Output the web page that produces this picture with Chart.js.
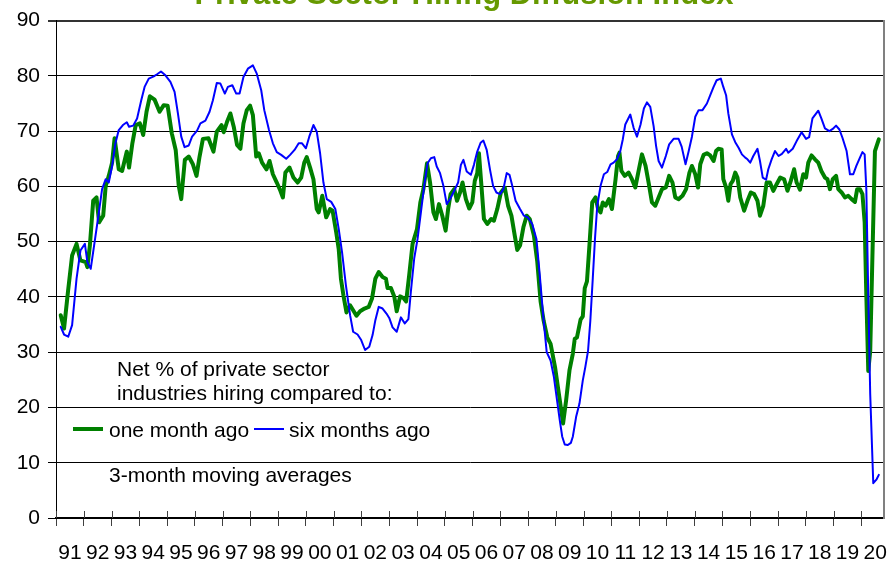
<!DOCTYPE html>
<html>
<head>
<meta charset="utf-8">
<title>Private Sector Hiring Diffusion Index</title>
<script src="https://cdn.jsdelivr.net/npm/chart.js@4.4.1/dist/chart.umd.min.js"></script>
<style>
  html, body { margin: 0; padding: 0; background: #fff; }
  #wrap { position: relative; width: 894px; height: 564px; }
</style>
</head>
<body>
<div id="wrap"><canvas id="chart"></canvas></div>
<script>
// year labels on the x axis, one per year (ticks sit at the start of each year)
const yearLabels = ['91','92','93','94','95','96','97','98','99','00','01','02','03','04','05',
                    '06','07','08','09','10','11','12','13','14','15','16','17','18','19','20'];
const yTicks = [0, 10, 20, 30, 40, 50, 60, 70, 80, 90];

const titleText = 'Private Sector Hiring Diffusion Index';
const noteLines = ['Net % of private sector', 'industries hiring compared to:'];
const seriesNames = ['one month ago', 'six months ago'];
const footNote = '3-month moving averages';

// one month ago (3-month moving average)
const greenYears = [1991.17,1991.29,1991.43,1991.58,1991.74,1991.88,1992.07,1992.13,1992.22,1992.34,
  1992.46,1992.55,1992.70,1992.79,1992.90,1993.02,1993.11,1993.26,1993.38,1993.55,
  1993.63,1993.75,1993.87,1994.02,1994.14,1994.26,1994.38,1994.55,1994.73,1994.88,
  1995.02,1995.17,1995.31,1995.42,1995.51,1995.64,1995.78,1995.93,1996.06,1996.17,
  1996.29,1996.49,1996.67,1996.79,1996.96,1997.04,1997.16,1997.28,1997.40,1997.52,
  1997.64,1997.75,1997.87,1997.99,1998.09,1998.21,1998.30,1998.42,1998.58,1998.69,
  1998.81,1998.95,1999.08,1999.17,1999.26,1999.41,1999.55,1999.70,1999.83,1999.94,
  2000.03,2000.15,2000.27,2000.39,2000.46,2000.59,2000.73,2000.87,2000.96,2001.09,
  2001.18,2001.26,2001.35,2001.46,2001.59,2001.70,2001.82,2001.95,2002.11,2002.26,
  2002.38,2002.50,2002.62,2002.76,2002.88,2002.94,2003.06,2003.18,2003.27,2003.39,
  2003.51,2003.61,2003.72,2003.84,2004.00,2004.12,2004.23,2004.36,2004.47,2004.59,
  2004.68,2004.79,2004.91,2005.03,2005.12,2005.21,2005.34,2005.44,2005.55,2005.64,
  2005.76,2005.88,2005.99,2006.08,2006.17,2006.23,2006.32,2006.41,2006.53,2006.67,
  2006.77,2006.89,2007.02,2007.16,2007.28,2007.40,2007.52,2007.61,2007.71,2007.83,
  2007.95,2008.06,2008.21,2008.33,2008.45,2008.56,2008.69,2008.81,2008.97,2009.09,
  2009.21,2009.26,2009.37,2009.49,2009.61,2009.68,2009.76,2009.89,2009.97,2010.04,
  2010.12,2010.21,2010.31,2010.43,2010.52,2010.61,2010.69,2010.79,2010.91,2011.02,
  2011.15,2011.24,2011.29,2011.36,2011.48,2011.62,2011.74,2011.86,2011.99,2012.10,
  2012.23,2012.34,2012.46,2012.58,2012.70,2012.82,2012.96,2013.08,2013.20,2013.30,
  2013.42,2013.56,2013.69,2013.81,2013.90,2014.02,2014.12,2014.20,2014.32,2014.44,
  2014.56,2014.68,2014.77,2014.85,2014.97,2015.03,2015.13,2015.21,2015.29,2015.37,
  2015.46,2015.54,2015.64,2015.78,2015.90,2016.02,2016.14,2016.26,2016.35,2016.47,
  2016.59,2016.71,2016.83,2016.95,2017.08,2017.22,2017.34,2017.46,2017.58,2017.67,
  2017.79,2017.91,2018.01,2018.09,2018.21,2018.33,2018.45,2018.56,2018.69,2018.78,
  2018.87,2018.97,2019.09,2019.17,2019.29,2019.41,2019.53,2019.65,2019.77,2019.85,
  2019.95,2020.04,2020.12,2020.18,2020.25,2020.32,2020.40,2020.49,2020.57,2020.63];
const greenValues = [36.7,34.3,40.9,47.5,49.6,46.6,46.3,45.4,49.3,57.4,
  58.0,53.5,54.7,60.1,61.9,64.3,68.7,63.1,62.8,66.3,
  63.4,67.8,71.1,71.4,69.3,73.5,76.3,75.7,73.5,74.7,
  74.6,69.6,66.6,60.1,57.7,64.8,65.4,64.0,61.9,65.4,
  68.6,68.7,66.3,69.9,71.1,69.8,71.7,73.2,70.8,67.5,
  66.8,71.4,73.8,74.6,72.9,65.4,66.0,64.3,63.1,64.6,
  62.2,60.7,59.2,58.0,62.5,63.4,61.6,60.7,61.6,64.3,
  65.3,63.4,61.3,55.9,55.3,58.3,54.4,55.9,55.6,51.7,
  48.7,43.3,40.3,37.2,38.5,37.6,36.6,37.4,37.9,38.2,
  39.7,43.3,44.5,43.6,43.3,41.6,41.6,40.1,37.4,40.1,
  39.8,39.2,44.0,49.6,52.3,57.1,59.5,64.2,60.7,55.3,
  54.1,56.8,54.7,52.0,55.9,58.6,59.5,57.4,58.9,60.7,
  57.7,56.0,57.1,61.0,62.4,66.0,60.1,54.1,53.2,54.1,
  53.8,55.9,58.9,59.8,56.5,54.7,51.1,48.5,49.3,52.6,
  54.7,54.1,51.1,46.4,39.2,35.7,32.7,31.5,27.3,23.1,
  18.9,17.1,21.3,26.7,29.7,32.4,32.7,35.9,36.5,41.6,
  42.8,49.4,57.1,58.0,55.9,55.3,57.1,56.5,57.7,55.9,
  61.3,65.5,66.1,62.8,61.9,62.5,61.3,59.8,63.1,65.8,
  63.7,60.7,57.1,56.5,58.0,59.5,59.8,61.9,60.7,58.0,
  57.7,58.3,59.5,62.5,63.7,62.2,59.8,64.0,65.7,66.0,
  65.6,64.6,66.4,66.8,66.7,61.3,59.8,57.4,60.4,61.0,
  62.5,61.6,58.0,55.6,57.4,58.9,58.6,57.4,54.7,56.5,
  60.7,60.7,59.2,60.4,61.6,61.3,59.2,61.0,63.1,60.7,
  59.4,62.2,61.6,64.3,65.6,64.9,64.3,62.8,61.6,61.3,
  59.5,61.3,61.9,59.5,58.9,58.0,58.3,57.7,57.2,59.5,
  59.5,58.6,53.5,40.3,26.6,30.2,47.5,66.4,67.6,68.5];

// six months ago (3-month moving average)
const blueYears = [1991.17,1991.29,1991.44,1991.58,1991.74,1991.88,1992.04,1992.13,1992.25,1992.39,
  1992.51,1992.66,1992.79,1992.90,1993.02,1993.14,1993.26,1993.41,1993.55,1993.63,
  1993.78,1993.92,1994.07,1994.19,1994.34,1994.52,1994.64,1994.78,1994.94,1995.12,
  1995.27,1995.39,1995.51,1995.63,1995.78,1995.90,1996.08,1996.20,1996.38,1996.53,
  1996.65,1996.79,1996.92,1997.08,1997.19,1997.35,1997.49,1997.61,1997.75,1997.91,
  1998.09,1998.23,1998.39,1998.50,1998.67,1998.81,1998.95,1999.11,1999.29,1999.43,
  1999.59,1999.74,1999.86,2000.00,2000.12,2000.27,2000.39,2000.51,2000.63,2000.75,
  2000.91,2001.06,2001.18,2001.30,2001.44,2001.59,2001.70,2001.86,2001.99,2002.13,
  2002.28,2002.40,2002.50,2002.62,2002.76,2002.90,2003.00,2003.12,2003.27,2003.42,
  2003.56,2003.69,2003.78,2003.90,2004.02,2004.14,2004.26,2004.38,2004.50,2004.62,
  2004.71,2004.83,2004.95,2005.07,2005.19,2005.34,2005.48,2005.58,2005.67,2005.79,
  2005.94,2006.05,2006.17,2006.29,2006.39,2006.51,2006.63,2006.74,2006.86,2006.99,
  2007.11,2007.23,2007.33,2007.43,2007.55,2007.71,2007.85,2007.99,2008.15,2008.30,
  2008.42,2008.54,2008.67,2008.81,2008.93,2009.01,2009.14,2009.23,2009.32,2009.43,
  2009.54,2009.61,2009.73,2009.85,2009.97,2010.06,2010.16,2010.24,2010.33,2010.41,
  2010.49,2010.61,2010.73,2010.85,2010.97,2011.08,2011.20,2011.32,2011.41,2011.50,
  2011.68,2011.80,2011.92,2012.05,2012.17,2012.28,2012.40,2012.52,2012.61,2012.70,
  2012.82,2012.96,2013.08,2013.24,2013.42,2013.53,2013.67,2013.78,2013.90,2014.02,
  2014.14,2014.28,2014.44,2014.56,2014.68,2014.79,2014.94,2015.03,2015.13,2015.21,
  2015.34,2015.46,2015.58,2015.70,2015.82,2015.90,2016.00,2016.11,2016.26,2016.35,
  2016.45,2016.57,2016.65,2016.77,2016.89,2017.02,2017.14,2017.29,2017.37,2017.53,
  2017.67,2017.85,2018.01,2018.12,2018.24,2018.45,2018.56,2018.69,2018.85,2018.97,
  2019.09,2019.21,2019.32,2019.47,2019.59,2019.71,2019.82,2019.95,2020.04,2020.12,
  2020.18,2020.25,2020.32,2020.43,2020.55,2020.63];
const blueValues = [34.6,33.2,32.8,34.9,43.3,48.4,49.6,46.3,45.1,49.9,
  54.1,59.5,61.3,60.7,63.7,67.8,70.2,71.1,71.6,70.8,
  71.0,72.3,75.6,78.0,79.5,79.9,80.3,80.8,80.1,78.9,
  77.1,73.2,69.0,67.1,67.4,69.0,70.1,71.4,71.9,73.5,
  75.6,78.7,78.6,76.8,78.0,78.3,76.8,76.8,79.8,81.3,
  81.9,80.4,77.4,73.8,70.2,67.8,66.2,65.7,65.0,65.7,
  66.6,67.8,67.8,66.9,69.0,71.1,69.9,66.0,60.7,57.7,
  57.2,55.9,52.3,48.1,42.1,36.7,33.7,33.2,32.2,30.4,
  31.0,33.1,35.8,38.2,37.9,37.0,36.2,34.5,33.7,36.3,
  35.2,36.0,41.0,47.0,50.5,55.3,60.1,64.2,65.1,65.3,
  63.6,62.4,60.1,56.8,57.7,59.2,60.7,63.9,64.8,62.7,
  62.1,63.9,66.3,67.9,68.3,66.6,63.0,60.1,58.9,58.6,
  59.5,62.4,62.1,60.1,57.4,55.9,54.7,54.4,53.2,50.5,
  44.0,36.8,30.0,28.5,25.5,22.5,17.7,14.7,13.3,13.2,
  13.6,14.7,18.3,20.7,24.9,27.3,30.3,35.6,43.4,50.6,
  56.5,60.1,62.2,62.6,64.0,64.3,64.9,66.4,68.5,71.2,
  73.0,70.6,69.0,71.2,74.1,75.2,74.4,70.9,67.3,64.6,
  63.4,65.5,67.6,68.6,68.6,67.2,64.0,66.3,69.0,72.6,
  73.8,73.8,75.0,76.5,78.0,79.2,79.5,78.0,76.5,73.2,
  69.4,68.0,67.0,65.8,65.2,64.9,64.3,65.5,66.8,64.6,
  61.6,61.2,63.1,64.9,66.4,65.5,65.9,66.8,66.1,66.8,
  68.2,69.8,68.6,68.9,72.3,73.7,72.3,70.5,70.0,70.4,
  71.0,70.3,68.8,66.4,62.2,62.2,63.7,65.2,66.2,65.8,
  59.5,40.3,22.4,6.3,7.0,7.8];

const FONT = '"Liberation Sans", Arial, sans-serif';
const GREEN = '#008000';
const BLUE = '#0000ff';
const X_MIN = 1991, X_MAX = 2020.83;

const toPoints = (xs, ys) => xs.map((x, i) => ({ x: x, y: ys[i] }));

// title, notes, legend and the small tick marks above the x axis
const overlay = {
  id: 'overlay',
  afterDatasetsDraw(chart) {
    const ctx = chart.ctx;
    const area = chart.chartArea;
    const xs = chart.scales.x;
    ctx.save();

    ctx.strokeStyle = '#404040';
    ctx.lineWidth = 1;
    xs.ticks.forEach(t => {
      const px = Math.round(xs.getPixelForValue(t.value)) + 0.5;
      ctx.beginPath();
      ctx.moveTo(px, area.bottom - 7);
      ctx.lineTo(px, area.bottom);
      ctx.stroke();
    });

    ctx.fillStyle = '#669900';
    ctx.font = 'bold 31px ' + FONT;
    ctx.textAlign = 'center';
    ctx.textBaseline = 'alphabetic';
    ctx.fillText(titleText, 464, 4);

    ctx.fillStyle = '#000';
    ctx.font = '21px ' + FONT;
    ctx.textAlign = 'left';
    ctx.fillText(noteLines[0], 117, 376);
    ctx.fillText(noteLines[1], 117, 400);

    ctx.lineCap = 'butt';
    ctx.strokeStyle = GREEN;
    ctx.lineWidth = 4;
    ctx.beginPath(); ctx.moveTo(73, 429); ctx.lineTo(103, 429); ctx.stroke();
    ctx.fillText(seriesNames[0], 109, 437);

    ctx.strokeStyle = BLUE;
    ctx.lineWidth = 2;
    ctx.beginPath(); ctx.moveTo(254, 429); ctx.lineTo(284, 429); ctx.stroke();
    ctx.fillText(seriesNames[1], 289, 437);

    ctx.fillText(footNote, 109, 482);
    ctx.restore();
  }
};

new Chart(document.getElementById('chart'), {
  type: 'line',
  data: {
    datasets: [
      { label: seriesNames[0], data: toPoints(greenYears, greenValues), borderColor: GREEN,
        borderWidth: 4, pointRadius: 0, tension: 0, order: 1,
        borderJoinStyle: 'round', borderCapStyle: 'round' },
      { label: seriesNames[1], data: toPoints(blueYears, blueValues), borderColor: BLUE,
        borderWidth: 2, pointRadius: 0, tension: 0, order: 0,
        borderJoinStyle: 'round', borderCapStyle: 'round' }
    ]
  },
  options: {
    responsive: true,
    maintainAspectRatio: false,
    devicePixelRatio: 1,
    animation: false,
    events: [],
    layout: { padding: { top: 16, right: 8, bottom: 0, left: 0 } },
    plugins: { legend: { display: false }, tooltip: { enabled: false }, title: { display: false } },
    scales: {
      x: {
        type: 'linear', position: 'bottom', bounds: 'data', min: X_MIN, max: X_MAX,
        afterBuildTicks: s => { s.ticks = yearLabels.map((_, i) => ({ value: X_MIN + i })); },
        ticks: { display: false },
        grid: { display: true, drawOnChartArea: false, drawTicks: true, tickLength: 8, color: '#404040', lineWidth: 1 },
        border: { display: true, color: '#000', width: 1.5 },
        afterFit: s => { s.height = 8; }
      },
      x2: {
        type: 'linear', position: 'bottom', bounds: 'data', min: X_MIN, max: X_MAX,
        afterBuildTicks: s => { s.ticks = yearLabels.map((_, i) => ({ value: X_MIN + 0.5 + i })); },
        ticks: {
          autoSkip: false, maxRotation: 0, padding: 7, color: '#000',
          font: { family: FONT, size: 21 },
          callback: v => yearLabels[Math.round(v - X_MIN - 0.5)]
        },
        grid: { display: false },
        border: { display: false },
        afterFit: s => { s.height = 38; }
      },
      y: {
        min: 0, max: 90, bounds: 'data',
        afterBuildTicks: s => { s.ticks = yTicks.map(v => ({ value: v })); },
        ticks: { padding: 8, color: '#000', font: { family: FONT, size: 21 } },
        grid: {
          color: c => (c.tick && c.tick.value === 90 ? '#333' : '#000'),
          lineWidth: c => (c.tick && c.tick.value === 90 ? 2 : 1),
          drawTicks: true, tickLength: 8
        },
        border: { display: true, color: '#000', width: 1 },
        afterFit: s => { s.width = 56; }
      },
      yR: {
        position: 'right', min: 0, max: 90,
        ticks: { display: false },
        grid: { display: false },
        border: { display: true, color: '#808080', width: 2 },
        afterFit: s => { s.width = 0; }
      }
    }
  },
  plugins: [overlay]
});
</script>
</body>
</html>
